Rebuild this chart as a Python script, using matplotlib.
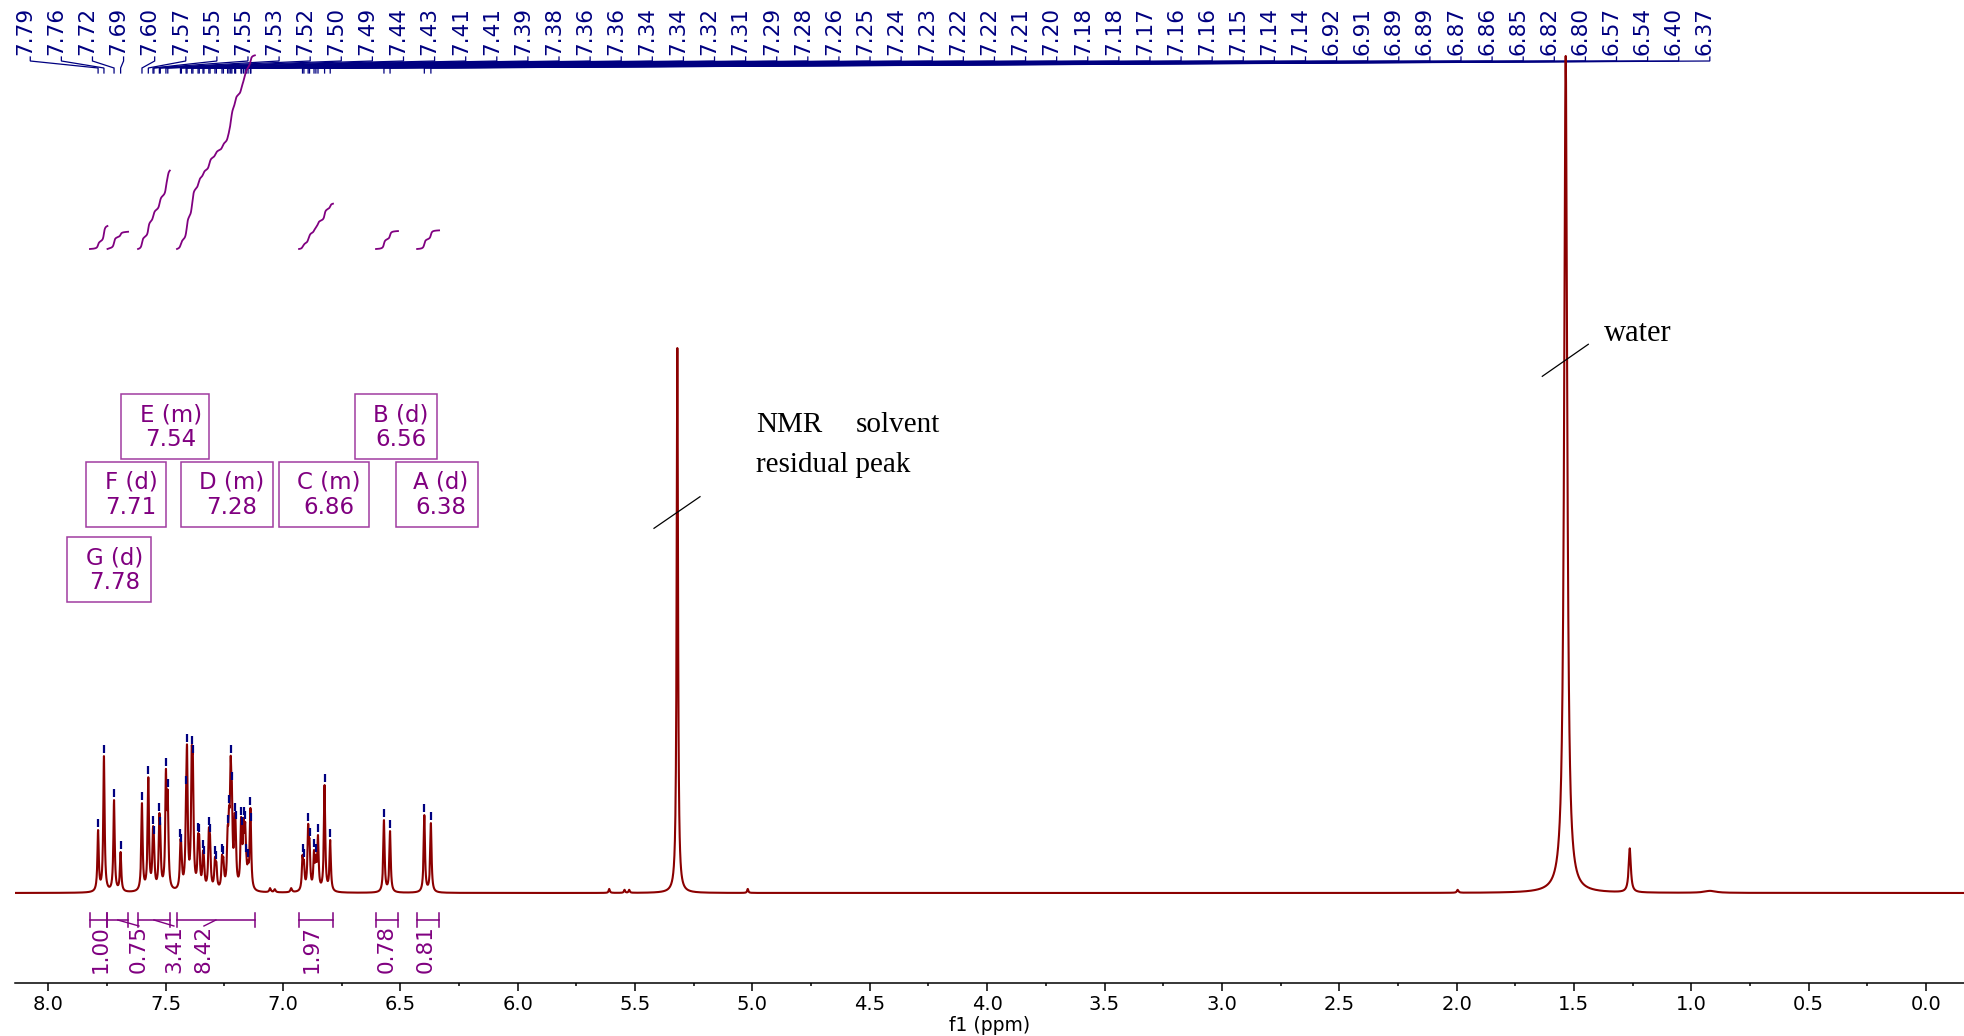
import matplotlib

matplotlib.use("Agg")
import matplotlib.pyplot as plt
import matplotlib.transforms as mtransforms
import numpy as np
from matplotlib.patches import Rectangle
from matplotlib.ticker import FormatStrFormatter, MultipleLocator

W, H = 1964, 1036

# picked aromatic lines (ppm) and their apparent heights (a.u.)
peak_ppm = [
    7.788, 7.763, 7.720, 7.692, 7.601, 7.574, 7.554, 7.550, 7.527, 7.523,
    7.499, 7.491, 7.437, 7.433, 7.413, 7.409, 7.389, 7.384, 7.362, 7.357,
    7.341, 7.337, 7.316, 7.311, 7.290, 7.284, 7.260, 7.254, 7.236, 7.230,
    7.223, 7.218, 7.206, 7.202, 7.179, 7.176, 7.168, 7.161, 7.156, 7.149,
    7.139, 7.137,
    6.917, 6.911, 6.893, 6.887, 6.868, 6.860, 6.851, 6.823, 6.799,
    6.570, 6.544, 6.398, 6.370,
]
peak_height = [
    63, 137, 93, 41, 90, 116, 66, 56, 79, 65,
    124, 103, 53, 48, 106, 148, 146, 137, 59, 58,
    42, 36, 65, 58, 36, 31, 38, 36, 67, 87,
    137, 110, 79, 71, 75, 65, 75, 71, 38, 33,
    85, 69,
    38, 33, 69, 54, 43, 38, 58, 108, 53,
    73, 62, 78, 70,
]
aromatic_hwhm = 0.0034

# solvent, water, grease and small impurity signals
extra_ppm = [5.320, 1.535, 1.262, 7.055, 7.035, 6.965, 5.610, 5.545, 5.525, 5.020, 1.995, 0.920]
extra_height = [545, 837, 44, 4, 3, 4, 4, 3, 3, 4, 3, 2]
extra_hwhm = [0.0034, 0.0078, 0.0055, 0.004, 0.004, 0.004, 0.003, 0.003, 0.003, 0.003, 0.004, 0.03]

# integration regions
integral_start = [7.823, 7.748, 7.618, 7.452, 6.932, 6.604, 6.429]
integral_end = [7.748, 7.660, 7.482, 7.120, 6.787, 6.510, 6.335]
integral_value = [1.00, 0.75, 3.41, 8.42, 1.97, 0.78, 0.81]

# multiplet report
multiplet_name = ["A", "B", "C", "D", "E", "F", "G"]
multiplet_kind = ["d", "d", "m", "m", "m", "d", "d"]
multiplet_shift = [6.38, 6.56, 6.86, 7.28, 7.54, 7.71, 7.78]

# layout (image pixels, y downwards)
box_rect = {
    "A": (395.7, 461.7, 82.0, 65.0), "B": (355.0, 394.3, 81.7, 64.7),
    "C": (279.0, 461.7, 90.3, 65.0), "D": (180.7, 461.7, 92.6, 65.0),
    "E": (120.7, 394.3, 88.6, 64.7), "F": (86.0, 461.7, 79.7, 65.0),
    "G": (67.3, 537.3, 83.7, 65.0),
}
box_text_x = {"A": 441, "B": 401, "C": 329, "D": 232, "E": 171, "F": 131, "G": 115}
integral_label_ppm = [7.776, 7.614, 7.465, 7.337, 6.877, 6.557, 6.391]

RED = "#8b0000"
PURPLE = "#800080"
NAVY = "#000080"


def lorentz(x, x0, w):
    return 1.0 / (1.0 + ((x - x0) / w) ** 2)


def main() -> None:
    p = np.array(peak_ppm)
    h = np.array(peak_height, dtype=float)

    # amplitudes so that overlapping lines reach the picked heights
    m = lorentz(p[:, None], p[None, :], aromatic_hwhm)
    amp = np.clip(np.linalg.solve(m, h), 0, None)

    x = np.linspace(-0.17, 8.15, 24000)
    y = (amp[None, :] * lorentz(x[:, None], p[None, :], aromatic_hwhm)).sum(axis=1)
    for x0, a, w in zip(extra_ppm, extra_height, extra_hwhm):
        y += a * lorentz(x, x0, w)
    y_at_peaks = (amp[None, :] * lorentz(p[:, None], p[None, :], aromatic_hwhm)).sum(axis=1)

    fig = plt.figure(figsize=(W / 100, H / 100), dpi=100)
    ax = fig.add_axes([15 / W, 53 / H, 1 - 15 / W, 983 / H])
    px = mtransforms.Affine2D().scale(1 / W, -1 / H).translate(0, 1) + fig.transFigure

    ax.plot(x, y, color=RED, lw=1.5, zorder=3)
    ax.set_xlim(8.142, -0.162)
    ax.set_ylim(-90, 893)

    # peak markers
    ax.vlines(p, y_at_peaks + 3, y_at_peaks + 11, color=NAVY, lw=1.6, zorder=4)

    # peak labels and connectors
    tick_ppm = np.linspace(8.077, 0.921, len(p))
    for tp, pk in zip(tick_ppm, p):
        ax.plot([tp, tp, pk, pk], [836, 832, 825, 820], color=NAVY, lw=0.9,
                solid_joinstyle="miter", clip_on=False)
        ax.text(tp + 0.021, 838, f"{pk:.2f}", rotation=90, ha="center", va="bottom",
                color=NAVY, fontsize=15.5, family="DejaVu Sans")

    # integral curves and labels
    dx = x[1] - x[0]
    for s, e, val, lx in zip(integral_start, integral_end, integral_value, integral_label_ppm):
        sel = (x <= s) & (x >= e)
        xs = x[sel][::-1]
        cum = np.cumsum(y[sel][::-1]) * dx
        cum = cum / cum[-1] * val * 23
        ax.plot(xs, 644 + cum, color=PURPLE, lw=1.3)
        ax.plot([s, e], [-27, -27], color=PURPLE, lw=1.1)
        ax.plot([s, s], [-20, -34], color=PURPLE, lw=1.1)
        ax.plot([e, e], [-20, -34], color=PURPLE, lw=1.1)
        mid = (s + e) / 2
        if abs(mid - lx) > 0.02:
            ax.plot([mid, lx], [-27, -33], color=PURPLE, lw=1.0)
        ax.text(lx, -32, f"{val:.2f}", rotation=90, ha="center", va="top",
                color=PURPLE, fontsize=15.5)

    # multiplet boxes
    for name, kind, shift in zip(multiplet_name, multiplet_kind, multiplet_shift):
        bx, by, bw, bh = box_rect[name]
        fig.add_artist(Rectangle((bx, by), bw, bh, transform=px, fill=False,
                                 edgecolor="#a03ca0", lw=1.1))
        tx = box_text_x[name]
        fig.text(tx, by + 20.5, f"{name} ({kind})", transform=px, ha="center",
                 va="center", color=PURPLE, fontsize=16.5)
        fig.text(tx, by + 45.5, f"{shift:.2f}", transform=px, ha="center",
                 va="center", color=PURPLE, fontsize=16.5)

    # solvent / water annotations
    serif = "Liberation Serif"
    fig.add_artist(plt.Line2D([654, 700], [528.3, 496.7], transform=px, color="black", lw=0.9))
    fig.add_artist(plt.Line2D([1542.3, 1588.3], [376.3, 344.3], transform=px, color="black", lw=0.9))
    fig.text(756, 432, "NMR", transform=px, ha="left", va="baseline", fontsize=21, family=serif)
    fig.text(940, 432, "solvent", transform=px, ha="right", va="baseline", fontsize=21, family=serif)
    fig.text(756, 471.5, "residual peak", transform=px, ha="left", va="baseline", fontsize=21, family=serif)
    fig.text(1604, 341, "water", transform=px, ha="left", va="baseline", fontsize=22, family=serif)

    # axis styling
    for side in ("left", "right", "top"):
        ax.spines[side].set_visible(False)
    ax.spines["bottom"].set_linewidth(1.1)
    ax.set_yticks([])
    ax.xaxis.set_major_locator(MultipleLocator(0.5))
    ax.xaxis.set_minor_locator(MultipleLocator(0.25))
    ax.xaxis.set_major_formatter(FormatStrFormatter("%.1f"))
    ax.tick_params(axis="x", which="major", length=6, width=1.1, direction="out",
                   labelsize=14, pad=3)
    ax.tick_params(axis="x", which="minor", length=2.5, width=1.1, direction="out")
    ax.set_xlabel("f1 (ppm)", fontsize=13.5, labelpad=1)
    ax.patch.set_visible(False)

    fig.savefig("out.png", dpi=100)
    plt.close(fig)


if __name__ == "__main__":
    main()
